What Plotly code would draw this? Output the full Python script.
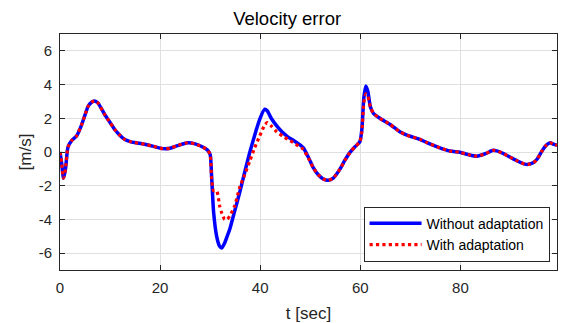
import plotly.graph_objects as go

t = [0, 0.3, 0.7, 1.1, 1.6, 2.4, 3.3, 4.3, 5.0, 5.6, 6.3, 6.9, 7.6, 8.9, 10.0, 10.9,
     12.0, 12.9, 14.0, 14.9, 16.9, 18.5, 20.5, 22.0, 23.5, 25.5, 27.0, 28.6, 29.5,
     30.0, 30.3, 30.7, 31.3, 31.9, 32.3, 32.9, 33.4, 33.9, 34.9, 35.9, 36.9, 37.9,
     38.9, 39.9, 40.9, 41.4, 42.2, 43.3, 44.5, 45.5, 46.6, 47.6, 48.6, 49.6, 50.6,
     51.6, 52.6, 53.6, 54.6, 55.9, 56.9, 57.9, 58.9, 59.9, 60.3, 60.7, 61.1, 61.5,
     62.0, 62.6, 63.9, 65.9, 67.9, 69.3, 71.9, 73.3, 75.9, 77.9, 79.9, 81.5, 83.3,
     85.0, 86.6, 88.3, 89.9, 91.5, 92.9, 93.6, 94.6, 95.3, 96.3, 97.1, 97.9, 98.7, 99.3]

without_adaptation = [0.0, -0.6, -1.55, -1.0, 0.3, 0.7, 0.95, 1.6, 2.2, 2.7, 2.95, 3.03, 2.9,
                      2.24, 1.75, 1.35, 0.98, 0.75, 0.62, 0.56, 0.46, 0.35, 0.2, 0.22, 0.38,
                      0.55, 0.48, 0.28, 0.1,
                      -0.15, -1.5, -3.6, -5.0, -5.6, -5.7, -5.4, -5.0, -4.6, -3.5, -2.4, -1.2,
                      -0.04, 1.0, 1.94, 2.54, 2.45, 2.0, 1.55, 1.15, 0.9, 0.7, 0.5, 0.26, -0.3,
                      -0.93, -1.35, -1.6, -1.68, -1.55, -1.03, -0.5, -0.04, 0.3, 0.6, 1.3, 3.2,
                      3.92, 3.6, 2.7, 2.3, 2.0, 1.65, 1.2, 1.0, 0.75, 0.56, 0.25, 0.06, -0.02,
                      -0.15, -0.25, -0.1, 0.1, -0.05, -0.3, -0.55, -0.72, -0.73, -0.63, -0.43,
                      0.06, 0.38, 0.55, 0.45, 0.4]

with_adaptation = [0.0, -0.6, -1.55, -1.0, 0.3, 0.7, 0.95, 1.6, 2.2, 2.7, 2.95, 3.03, 2.9,
                   2.24, 1.75, 1.35, 0.98, 0.75, 0.62, 0.56, 0.46, 0.35, 0.2, 0.22, 0.38,
                   0.55, 0.48, 0.28, 0.1,
                   -0.15, -1.6, -2.3, -2.3, -3.2, -3.6, -4.0, -4.0, -3.8, -3.2, -2.1, -1.35,
                   -0.55, 0.25, 0.95, 1.6, 1.75, 1.55, 1.2, 0.95, 0.75, 0.56, 0.36, 0.16, -0.35,
                   -0.93, -1.35, -1.6, -1.68, -1.55, -1.03, -0.5, -0.04, 0.3, 0.6, 1.2, 2.9,
                   3.45, 3.3, 2.7, 2.3, 2.0, 1.65, 1.2, 1.0, 0.75, 0.56, 0.25, 0.06, -0.02,
                   -0.15, -0.25, -0.1, 0.1, -0.05, -0.3, -0.55, -0.72, -0.73, -0.63, -0.43,
                   0.06, 0.38, 0.55, 0.45, 0.4]

x_ticks = [0, 20, 40, 60, 80]
y_ticks = [-6, -4, -2, 0, 2, 4, 6]
y_tick_labels = ["-6", "-4", "-2", "0", "2", "4", "6"]

FONT = "Liberation Sans, Arial, sans-serif"

fig = go.Figure()
fig.add_trace(go.Scatter(x=t, y=without_adaptation, mode="lines", name="Without adaptation",
                         line=dict(color="#0000ff", width=3.5, shape="spline", smoothing=0.6)))
fig.add_trace(go.Scatter(x=t, y=with_adaptation, mode="lines", name="With adaptation",
                         line=dict(color="#ff0000", width=3.2, dash="dot", shape="spline", smoothing=0.6)))

axis_common = dict(showgrid=True, gridcolor="#e0e0e0", gridwidth=1, zeroline=False,
                   showline=True, linecolor="#262626", linewidth=1, mirror="ticks",
                   ticks="inside", ticklen=5, tickcolor="#262626", automargin=False,
                   tickfont=dict(family=FONT, size=15, color="#262626"))

fig.update_layout(
    width=562, height=323,
    margin=dict(l=60, r=5, t=34, b=53, autoexpand=False),
    paper_bgcolor="white", plot_bgcolor="white",
    title=dict(text="Velocity error", x=0.457, xref="paper", xanchor="center",
               y=1 - 19 / 323, yanchor="middle", automargin=False,
               font=dict(family=FONT, size=18.5, color="#000000")),
    xaxis=dict(range=[0, 99.3], tickvals=x_ticks, ticklabelstandoff=4,
               title=dict(text="t [sec]", font=dict(family=FONT, size=17, color="#262626"), standoff=12),
               **axis_common),
    yaxis=dict(range=[-7, 7], tickvals=y_ticks, ticktext=y_tick_labels, ticklabelstandoff=4,
               title=dict(text="[m/s]", font=dict(family=FONT, size=17, color="#262626"), standoff=2),
               **axis_common),
    legend=dict(x=0.985, y=0.035, xanchor="right", yanchor="bottom",
                bgcolor="white", bordercolor="#262626", borderwidth=1,
                font=dict(family=FONT, size=14, color="#000000"),
                tracegroupgap=0, itemwidth=52),
    showlegend=True,
)

fig.write_html("out.html", config={"displayModeBar": False},
               post_script="document.body.style.margin='0';document.body.style.padding='0';")
